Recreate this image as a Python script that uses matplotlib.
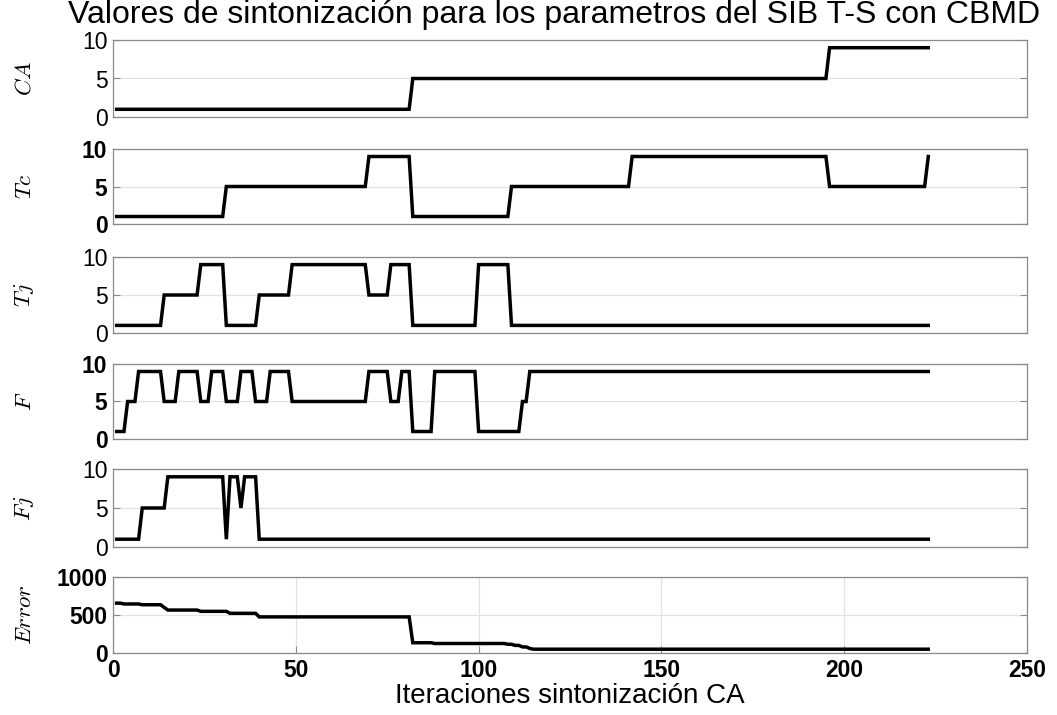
import numpy as np
import matplotlib
matplotlib.use('Agg')
import matplotlib.pyplot as plt

plt.rcParams['font.family'] = ['Liberation Sans', 'DejaVu Sans']
plt.rcParams['mathtext.fontset'] = 'cm'

# last iteration of the tuning run
n_iter = 223

# step data: (first iteration of the step, value)
ca_steps = [(1, 1), (82, 5), (196, 9)]
tc_steps = [(1, 1), (31, 5), (70, 9), (82, 1), (109, 5), (142, 9), (196, 5), (223, 9)]
tj_steps = [(1, 1), (14, 5), (24, 9), (31, 1), (40, 5), (49, 9), (70, 5), (76, 9),
            (82, 1), (100, 9), (109, 1)]
f_steps = [(1, 1), (4, 5), (7, 9), (14, 5), (18, 9), (24, 5), (27, 9), (31, 5), (35, 9),
           (39, 5), (43, 9), (49, 5), (70, 9), (76, 5), (79, 9), (82, 1), (88, 9),
           (100, 1), (112, 5), (114, 9)]
fj_steps = [(1, 1), (8, 5), (15, 9), (31, 1), (32, 9), (35, 5), (36, 9), (40, 1)]
err_steps = [(1, 656), (3, 645), (8, 635), (14, 600), (15, 565), (24, 548), (32, 522),
             (40, 475), (82, 135), (88, 125), (108, 115), (110, 100), (112, 80),
             (114, 60), (115, 50)]

labels = ['$CA$', '$Tc$', '$Tj$', '$F$', '$Fj$', '$Error$']
bold_ticks = [False, True, False, True, False, True]


def expand(steps, n=n_iter):
    '''turns a list of step changes into one value per iteration'''
    starts = [s for s, _ in steps] + [n + 1]
    vals = [v for _, v in steps]
    return np.repeat(vals, np.diff(starts))


x = np.arange(1, n_iter + 1)
series = [expand(s) for s in [ca_steps, tc_steps, tj_steps, f_steps, fj_steps, err_steps]]

W, H = 1057, 715
fig = plt.figure(figsize=(W / 100, H / 100), dpi=100)

tops = [40, 149, 257, 364, 469, 577]
bots = [117, 224, 333, 439, 547, 653]
left, right = 113, 1027

for i, (y, lab) in enumerate(zip(series, labels)):
    ax = fig.add_axes([left / W, 1 - bots[i] / H, (right - left) / W, (bots[i] - tops[i]) / H])
    ax.plot(x, y, color='black', lw=2.5, solid_joinstyle='miter')
    ax.set_xlim(0, 250)
    last = i == len(series) - 1
    if last:
        ax.set_ylim(0, 1000)
        ax.set_yticks([0, 500, 1000])
        ax.set_xticks([0, 50, 100, 150, 200, 250])
        ax.grid(True, color='#e3e3e3', lw=0.9)
    else:
        ax.set_ylim(0, 10)
        ax.set_yticks([0, 5, 10])
        ax.set_xticks([])
        ax.grid(True, axis='y', color='#e3e3e3', lw=0.9)
    ax.set_axisbelow(True)
    w = 'bold' if bold_ticks[i] else 'normal'
    ax.tick_params(axis='both', direction='in', length=5, width=0.8, color='#8a8a8a',
                   labelsize=16.5, pad=4, right=True, top=False)
    for t in ax.get_yticklabels() + ax.get_xticklabels():
        t.set_fontweight(w)
    for s in ax.spines.values():
        s.set_color('#8a8a8a')
        s.set_linewidth(0.9)
    ax.set_ylabel(lab, fontsize=16.5, rotation=90, va='center')
    ax.yaxis.set_label_coords(-0.097, 0.5)
    if last:
        ax.set_xlabel('Iteraciones sintonización CA', fontsize=20, labelpad=1)

fig.text(554 / W, 1 - 15 / H, 'Valores de sintonización para los parametros del SIB T-S con CBMD',
         ha='center', va='center', fontsize=23)

fig.savefig('out.png', dpi=100)
